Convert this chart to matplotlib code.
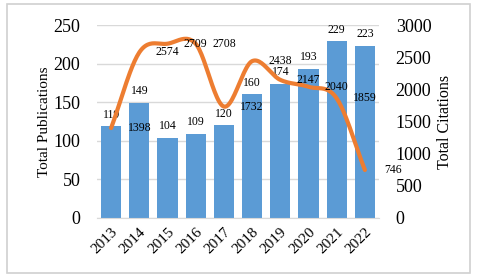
import matplotlib.pyplot as plt
import numpy as np
from matplotlib.patches import Rectangle

years = ["2013", "2014", "2015", "2016", "2017", "2018", "2019", "2020", "2021", "2022"]
publications = [119, 149, 104, 109, 120, 160, 174, 193, 229, 223]
citations = [1398, 2574, 2709, 2708, 1732, 2438, 2147, 2040, 1859, 746]

BAR = "#5B9BD5"
LINE = "#ED7D31"
GRID = "#D9D9D9"


def smooth(x, y, n=24):
    # Catmull-Rom curve through the points, like a spreadsheet "smoothed line"
    x = np.asarray(x, float)
    y = np.asarray(y, float)
    px = np.concatenate([[2 * x[0] - x[1]], x, [2 * x[-1] - x[-2]]])
    py = np.concatenate([[2 * y[0] - y[1]], y, [2 * y[-1] - y[-2]]])
    xs, ys = [], []
    t = np.linspace(0, 1, n, endpoint=False)
    for i in range(1, len(px) - 2):
        for p, out in ((px, xs), (py, ys)):
            p0, p1, p2, p3 = p[i - 1], p[i], p[i + 1], p[i + 2]
            out.extend(0.5 * (2 * p1 + (-p0 + p2) * t
                              + (2 * p0 - 5 * p1 + 4 * p2 - p3) * t ** 2
                              + (-p0 + 3 * p1 - 3 * p2 + p3) * t ** 3))
    xs.append(x[-1])
    ys.append(y[-1])
    return np.array(xs), np.array(ys)


plt.rcParams["font.family"] = ["Liberation Serif", "DejaVu Serif"]

fig = plt.figure(figsize=(4.8, 2.77), dpi=100)
fig.patches.append(Rectangle((7 / 480, 1 - 273 / 277), 463 / 480, 269 / 277,
                             transform=fig.transFigure, fill=False,
                             edgecolor="#D0D0D0", lw=1.2))
ax = fig.add_axes([97 / 480, 1 - 218 / 277, 282 / 480, 193 / 277])
ax2 = ax.twinx()

x = np.arange(len(years))
ax.bar(x, publications, width=0.71, color=BAR, zorder=2)
ax.set_xlim(-0.5, len(years) - 0.5)
ax.set_ylim(0, 250)
ax.set_yticks(range(0, 251, 50))
ax.grid(axis="y", color=GRID, lw=1, zorder=0)
ax.set_axisbelow(True)
for i, v in enumerate(publications):
    ax.annotate(str(v), (x[i], v), xytext=(0, 4), textcoords="offset points",
                ha="center", va="bottom", fontsize=8.5)

sx, sy = smooth(x, citations)
ax2.plot(sx, sy, color=LINE, lw=3, solid_capstyle="round", zorder=3)
ax2.set_ylim(0, 3000)
ax2.set_yticks(range(0, 3001, 500))
for i, v in enumerate(citations):
    ax2.annotate(str(v), (x[i] + 1, v), ha="center", va="center",
                 fontsize=8.5, annotation_clip=False)

ax.set_xticks(x)
ax.set_xticklabels(years, rotation=45, ha="right", rotation_mode="anchor")
for a in (ax, ax2):
    for s in a.spines.values():
        s.set_visible(False)
    a.tick_params(length=0, labelsize=13, pad=12)
ax.tick_params(axis="x", labelsize=11, pad=5)
ax.spines["bottom"].set_visible(True)
ax.spines["bottom"].set_color(GRID)

ax.set_ylabel("Total Publications", fontsize=11, labelpad=1.5)
ax2.set_ylabel("Total Citations", fontsize=11.5, labelpad=4)

fig.savefig("out.png", dpi=100)
